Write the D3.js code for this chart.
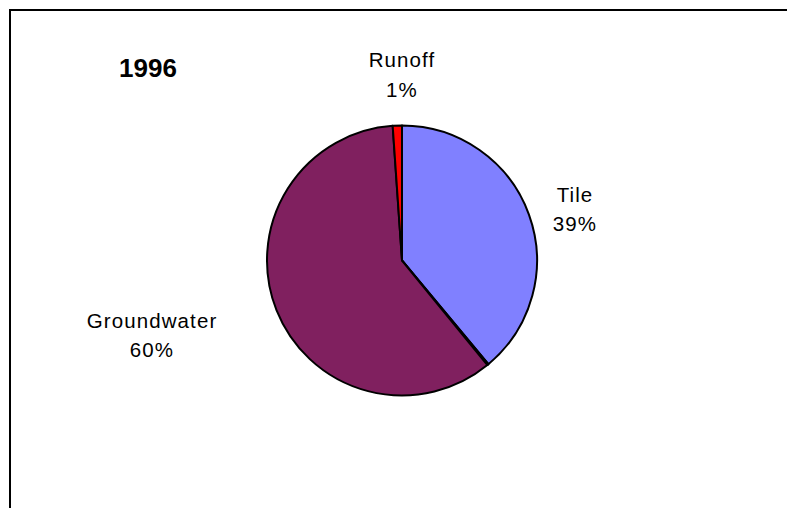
<!DOCTYPE html>
<html>
<head>
<meta charset="utf-8">
<script src="https://cdn.jsdelivr.net/npm/d3@7"></script>
<style>
  html, body { margin: 0; padding: 0; background: #fff; overflow: hidden; }
  svg { display: block; }
  text { font-family: "Liberation Sans", Arial, sans-serif; fill: #000; }
</style>
</head>
<body>
<svg id="chart" width="787" height="508"></svg>
<script>
// Water flow pathways, share of total (%), 1996
const year = "1996";
const categories = ["Tile", "Other", "Groundwater", "Runoff"];
const shares = [38.95, 0.15, 59.8, 1.1];
const colors = ["#8080ff", "#ffffff", "#80205f", "#ff0000"];
const labelled = ["Tile", "Groundwater", "Runoff"];

const data = categories.map((c, i) => ({ name: c, value: shares[i], color: colors[i] }));

const svg = d3.select("#chart");

// Chart frame (extends past the right and bottom edges)
svg.append("rect")
  .attr("x", 10).attr("y", 10)
  .attr("width", 820).attr("height", 540)
  .attr("fill", "none")
  .attr("stroke", "#000")
  .attr("stroke-width", 2);

// Title
svg.append("text")
  .attr("x", 148).attr("y", 77)
  .attr("text-anchor", "middle")
  .style("font-size", "26px")
  .style("font-weight", "bold")
  .text(year);

const cx = 402, cy = 260.5, radius = 135;

const pie = d3.pie().sort(null).value(d => d.value);
const arc = d3.arc().innerRadius(0).outerRadius(radius);
const arcs = pie(data);

const g = svg.append("g").attr("transform", `translate(${cx},${cy})`);

g.selectAll("path")
  .data(arcs)
  .join("path")
  .attr("d", arc)
  .attr("fill", d => d.data.color)
  .attr("stroke", "#000")
  .attr("stroke-width", 2)
  .attr("stroke-linejoin", "round");

// Label anchors, offset from the pie centre
const labelOffset = {
  "Tile": [173, -44],
  "Groundwater": [-250, 82],
  "Runoff": [0, -178.5]
};

const labels = svg.append("g")
  .selectAll("text")
  .data(arcs.filter(d => labelled.includes(d.data.name)))
  .join("text")
  .attr("text-anchor", "middle")
  .attr("transform", d => {
    const o = labelOffset[d.data.name];
    return `translate(${cx + o[0]},${cy + o[1]})`;
  })
  .style("font-size", "20.5px")
  .style("letter-spacing", "1.1px");

labels.append("tspan")
  .attr("x", 0).attr("y", -15)
  .text(d => d.data.name);
labels.append("tspan")
  .attr("x", 0).attr("y", 14.5)
  .text(d => Math.round(d.data.value) + "%");
</script>
</body>
</html>
